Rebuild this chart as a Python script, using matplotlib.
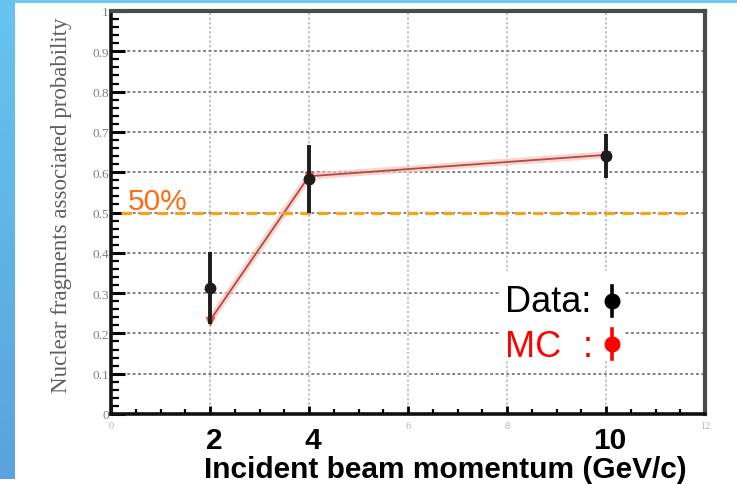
import matplotlib
matplotlib.use("Agg")
import matplotlib.pyplot as plt
import numpy as np
from matplotlib.patches import Rectangle
from matplotlib.lines import Line2D
from matplotlib.ticker import MultipleLocator
from matplotlib.transforms import blended_transform_factory
from matplotlib.colors import LinearSegmentedColormap

# ---- values ----
momentum = [2, 4, 10]                 # GeV/c
data_prob = [0.313, 0.583, 0.640]
data_err = [0.090, 0.085, 0.055]
mc_prob = [0.232, 0.590, 0.643]
threshold = 0.5

y_ticks = [0, 0.1, 0.2, 0.3, 0.4, 0.5, 0.6, 0.7, 0.8, 0.9, 1.0]
y_tick_labels = ["0", "0.1", "0.2", "0.3", "0.4", "0.5", "0.6", "0.7", "0.8", "0.9", "1"]
x_ticks = [0, 2, 4, 6, 8, 10, 12]
x_tick_labels = ["0", "", "", "6", "8", "", "12"]
x_big_ticks = [2, 4, 10]
x_big_labels = ["2", "4", "10"]

W, H = 737, 485
fig = plt.figure(figsize=(W / 100, H / 100), dpi=100)
fig.patch.set_facecolor("white")

# blue slide frame on the left and top
grad_ax = fig.add_axes([0, 0.01, 15 / W, 0.99])
grad = np.linspace(0, 1, 256).reshape(-1, 1)
cmap = LinearSegmentedColormap.from_list("frame", ["#67c4f0", "#5aa3de"])
grad_ax.imshow(grad, aspect="auto", cmap=cmap, extent=[0, 1, 0, 1], origin="upper")
grad_ax.set_axis_off()
fig.add_artist(Rectangle((0, 1 - 4 / H), 1, 4 / H, transform=fig.transFigure,
                         color="#6ac8f2", lw=0, zorder=0))

# ---- main axes ----
L, R, T, B = 111, 705, 12, 415
ax = fig.add_axes([L / W, 1 - B / H, (R - L) / W, (B - T) / H])
ax.set_xlim(0, 12)
ax.set_ylim(0, 1)

ax.set_yticks(y_ticks)
ax.set_yticklabels(y_tick_labels, family="Liberation Serif")
ax.set_xticks(x_ticks)
ax.set_xticklabels(x_tick_labels, family="Liberation Serif")
ax.yaxis.set_minor_locator(MultipleLocator(0.02))
ax.xaxis.set_minor_locator(MultipleLocator(0.5))

ax.tick_params(axis="both", which="both", direction="in", top=False, right=False)
ax.tick_params(axis="y", which="major", length=10, width=2.2, labelsize=9.5,
               labelcolor="#7e7e7e", pad=1.5)
ax.tick_params(axis="y", which="minor", length=5.5, width=1.6)
ax.tick_params(axis="x", which="major", length=6, width=2, labelsize=7.5,
               labelcolor="#b0b0b0", pad=5)
ax.tick_params(axis="x", which="minor", length=3.5, width=1.6)

for side in ("left", "bottom"):
    ax.spines[side].set_linewidth(2.6)
    ax.spines[side].set_color("#111111")
for side in ("top", "right"):
    ax.spines[side].set_linewidth(3.0)
    ax.spines[side].set_color("#4a4a4a")

ax.yaxis.grid(True, color="#7a7a7a", lw=1.3, linestyle=(0, (1.6, 1.4)))
ax.xaxis.grid(True, color="#b5b5b5", lw=1.1, linestyle=(0, (1.6, 1.4)))
ax.set_axisbelow(True)

# MC curve (soft halo under a thin dark-red line)
ax.plot(momentum, mc_prob, color="#f6c4bc", lw=5, alpha=0.7, zorder=3,
        solid_capstyle="round")
ax.plot(momentum, mc_prob, color="#b24a44", lw=1.3, zorder=3.5)
ax.plot(momentum, mc_prob, linestyle="none", marker="v", ms=6,
        color="#ec4a3c", zorder=3.6)

# 50% reference line
ax.plot([0.2, 11.75], [threshold, threshold], color="#f7a21b", lw=2.3,
        linestyle=(0, (3.3, 2.3)), zorder=4)
ax.text(0.34, 0.509, "50%", va="baseline", ha="left", fontsize=21.5,
        color="#ff6a10", family="Liberation Sans", zorder=6)

# measured data
ax.errorbar(momentum, data_prob, yerr=data_err, fmt="o", color="#1c1c1c",
            ms=7.5, elinewidth=2.8, capsize=0, zorder=5)

# bold momentum labels and axis title
bt = blended_transform_factory(ax.transData, fig.transFigure)
for xv, lab in zip(x_big_ticks, x_big_labels):
    ax.text(xv + 0.08, 1 - 449 / H, lab, transform=bt, ha="center", va="baseline",
            fontsize=21.5, fontweight="bold", family="Liberation Sans",
            color="black", clip_on=False)
fig.text(445 / W, 1 - 478 / H, "Incident beam momentum (GeV/c)", ha="center",
         va="baseline", fontsize=21.5, fontweight="bold",
         family="Liberation Sans", color="black")

fig.text(62 / W, 1 - 205 / H, "Nuclear fragments associated probability",
         rotation=90, ha="center", va="center", fontsize=16.5,
         family="Liberation Serif", color="#5e5e5e")

# legend block
fig.add_artist(Rectangle((500 / W, 1 - 362 / H), 123 / W, 90 / H,
                         transform=fig.transFigure, color="white", lw=0,
                         zorder=7))
fig.text(505 / W, 1 - 312 / H, "Data:", fontsize=26, color="black",
         family="Liberation Sans", va="baseline", zorder=8)
fig.text(505 / W, 1 - 357 / H, "MC", fontsize=26, color="#ff0000",
         family="Liberation Sans", va="baseline", zorder=8)
fig.text(583 / W, 1 - 357 / H, ":", fontsize=26, color="#ff0000",
         family="Liberation Sans", va="baseline", zorder=8)
for cy, col in ((302, "black"), (345, "#ff0000")):
    fig.add_artist(Line2D([612 / W, 612 / W], [1 - (cy - 15) / H, 1 - (cy + 15) / H],
                          transform=fig.transFigure, color=col, lw=2.6, zorder=8))
    fig.add_artist(Line2D([612 / W], [1 - cy / H], transform=fig.transFigure,
                          marker="o", ms=10.5, color=col, zorder=9))

fig.savefig("out.png", dpi=100)
